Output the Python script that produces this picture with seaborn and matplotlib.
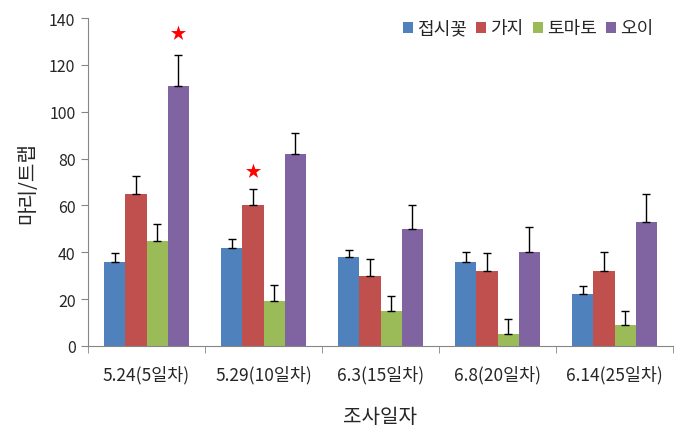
import matplotlib
matplotlib.use("Agg")
import matplotlib.pyplot as plt
import seaborn as sns
import pandas as pd
import numpy as np
from matplotlib.patches import Patch

dates = ["5.24(5일차)", "5.29(10일차)", "6.3(15일차)", "6.8(20일차)", "6.14(25일차)"]
crops = ["접시꽃", "가지", "토마토", "오이"]
means_jeopsi = [36, 42, 38, 36, 22]
means_gaji = [65, 60, 30, 32, 32]
means_tomato = [45, 19, 15, 5, 9]
means_oi = [111, 82, 50, 40, 53]
err_jeopsi = [3.5, 3.5, 3, 4, 3.5]
err_gaji = [7.5, 7, 7, 7.5, 8]
err_tomato = [7, 7, 6.5, 6.5, 6]
err_oi = [13, 9, 10, 11, 12]
# significance stars: (date index, crop index, y value)
star_date = [0, 1]
star_crop = [3, 1]
star_y = [133.5, 74.5]

colors = ["#4F81BD", "#C0504D", "#9BBB59", "#8064A2"]

means = [means_jeopsi, means_gaji, means_tomato, means_oi]
errs = [err_jeopsi, err_gaji, err_tomato, err_oi]
rows = []
for ci, c in enumerate(crops):
    for di, d in enumerate(dates):
        rows.append({"date": d, "crop": c, "value": means[ci][di], "err": errs[ci][di]})
df = pd.DataFrame(rows)

sns.set_style("white")
plt.rcParams["font.family"] = ["Noto Sans CJK KR", "DejaVu Sans"]

fig = plt.figure(figsize=(6.83, 4.39), dpi=100)
ax = fig.add_axes([88/683, 1-347/439, (673-88)/683, (347-19)/439])

sns.barplot(data=df, x="date", y="value", hue="crop", order=dates, hue_order=crops,
            palette=colors, width=0.72, errorbar=None, saturation=1, ax=ax, legend=False,
            linewidth=0, edgecolor="none")

bars = [p for p in ax.patches]
for ci, c in enumerate(crops):
    for di, d in enumerate(dates):
        p = bars[ci * len(dates) + di]
        xc = p.get_x() + p.get_width() / 2
        h = p.get_height()
        ax.errorbar(xc, h, yerr=[[0], [errs[ci][di]]], fmt="none", ecolor="black",
                    elinewidth=1, capsize=3, capthick=1, zorder=3)

for di, ci, yv in zip(star_date, star_crop, star_y):
    p = bars[ci * len(dates) + di]
    xc = p.get_x() + p.get_width() / 2
    ax.scatter([xc], [yv], marker="*", s=130, color="red", zorder=4, linewidths=0)

ax.set_ylim(0, 140)
ax.set_yticks(np.arange(0, 141, 20))
ax.set_xlim(-0.5, len(dates) - 0.5)
ax.set_xticks(np.arange(len(dates)))
ax.set_xticklabels(dates, fontsize=12.5)
ax.set_xticks(np.arange(len(dates) + 1) - 0.5, minor=True)
ax.tick_params(axis="x", which="major", length=0, pad=14)
ax.tick_params(axis="x", which="minor", length=5, direction="out", color="#868686")
ax.tick_params(axis="y", length=5, direction="out", color="#868686", labelsize=11.5, pad=4)
ax.yaxis.set_ticks_position("left")
ax.xaxis.set_ticks_position("bottom")
for s in ["top", "right"]:
    ax.spines[s].set_visible(False)
for s in ["left", "bottom"]:
    ax.spines[s].set_color("#868686")
    ax.spines[s].set_linewidth(0.8)

ax.set_xlabel("조사일자", fontsize=14.5, labelpad=16)
ax.set_ylabel("마리/트랩", fontsize=14.5, labelpad=8)

handles = [Patch(facecolor=col, edgecolor="none") for col in colors]
ax.legend(handles, crops, loc="upper right", bbox_to_anchor=(0.995, 1.045), ncol=4, frameon=False,
          handlelength=0.55, handleheight=0.55, handletextpad=0.25, columnspacing=0.5, fontsize=13)

fig.savefig("out.png", dpi=100)
